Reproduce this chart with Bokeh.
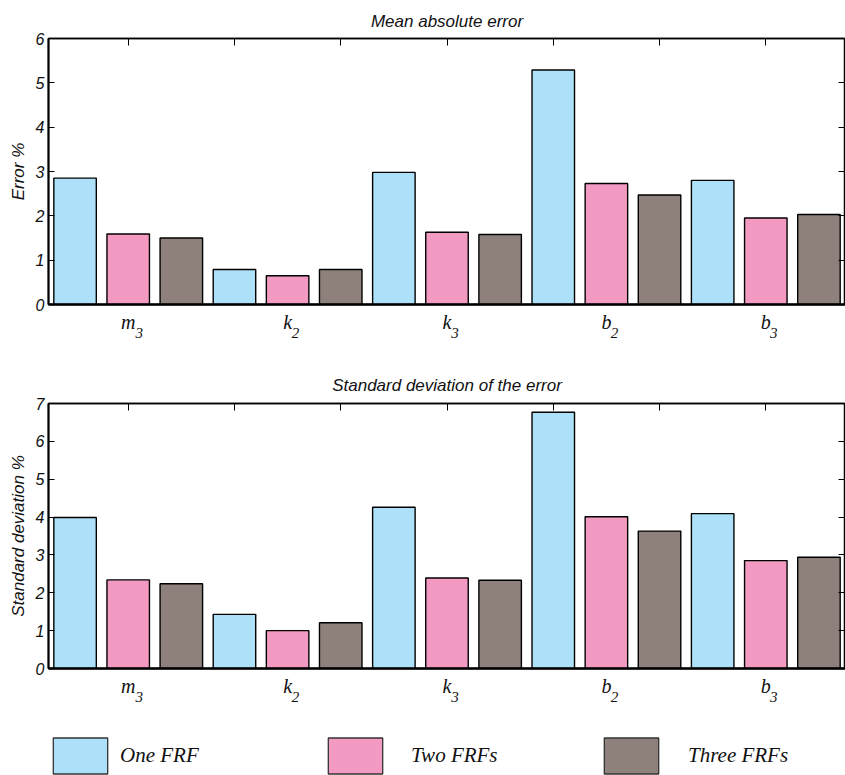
from bokeh.plotting import figure
from bokeh.models import (ColumnDataSource, FixedTicker, LinearAxis, Range1d, Legend,
                          LegendItem, CustomJSTickFormatter)
from bokeh.layouts import column
from bokeh.embed import file_html
from bokeh.resources import INLINE

# ---------------- data ----------------
param_letters = ["m", "k", "k", "b", "b"]
param_subs = ["3", "2", "3", "2", "3"]
series_names = ["One FRF", "Two FRFs", "Three FRFs"]
series_colors = ["#ACE1F9", "#F39AC3", "#8E817C"]

mae_one = [2.85, 0.79, 2.98, 5.29, 2.80]
mae_two = [1.59, 0.65, 1.63, 2.73, 1.95]
mae_three = [1.50, 0.79, 1.58, 2.47, 2.03]

std_one = [3.99, 1.43, 4.26, 6.77, 4.09]
std_two = [2.34, 1.00, 2.39, 4.01, 2.85]
std_three = [2.24, 1.21, 2.33, 3.63, 2.94]

n_groups = len(param_letters)
n_series = len(series_names)
n_bars = n_groups * n_series
group_centers = [n_series * g + 2 for g in range(n_groups)]
top_ticks = list(range(2, n_bars + 1, 2))

SANS = "Liberation Sans"
SERIF = "Liberation Serif"
TXT = "#111111"

FIG_W = 845
BORDER_L = 48
px_per_unit = (FIG_W - BORDER_L) / n_bars
sub_dx_px = {"m": 11, "k": 8, "b": 8}
sub_ticks = [c + sub_dx_px[l] / px_per_unit for c, l in zip(group_centers, param_letters)]


def bar_sources(series_vals):
    out = []
    for s, vals in enumerate(series_vals):
        xs = [n_series * g + s + 1 for g in range(n_groups)]
        out.append(ColumnDataSource(dict(x=xs, top=vals)))
    return out


def make_panel(title, ylabel, series_vals, ymax, height, border_top, border_bottom,
               title_standoff):
    p = figure(width=FIG_W, height=height,
               x_range=Range1d(0.5, n_bars + 0.5),
               y_range=Range1d(0, ymax),
               output_backend="svg", toolbar_location=None,
               min_border_left=BORDER_L, min_border_right=0,
               min_border_top=border_top, min_border_bottom=border_bottom,
               x_axis_location=None, y_axis_location=None)
    p.grid.visible = False
    p.outline_line_color = "black"
    p.outline_line_width = 1.5
    p.background_fill_color = "white"
    p.border_fill_color = "white"

    p.title.text = title
    p.title.align = "center"
    p.title.text_font = SANS
    p.title.text_font_style = "italic"
    p.title.text_font_size = "17px"
    p.title.text_color = TXT
    p.title.standoff = title_standoff

    for s, src in enumerate(bar_sources(series_vals)):
        p.vbar(x="x", top="top", bottom=0, width=0.8, source=src,
               fill_color=series_colors[s], line_color="black", line_width=1.4)

    yticks = list(range(0, ymax + 1))

    la = LinearAxis(ticker=FixedTicker(ticks=yticks), axis_label=ylabel)
    la.major_tick_in = 6
    la.major_tick_out = 0
    la.minor_tick_line_color = None
    la.axis_line_width = 2
    la.major_label_text_font = SANS
    la.major_label_text_font_style = "italic"
    la.major_label_text_font_size = "16px"
    la.major_label_text_color = TXT
    la.major_label_standoff = 4
    la.axis_label_text_font = SANS
    la.axis_label_text_font_style = "italic"
    la.axis_label_text_font_size = "17px"
    la.axis_label_text_color = TXT
    la.axis_label_standoff = 5
    p.add_layout(la, "left")

    ra = LinearAxis(ticker=FixedTicker(ticks=yticks),
                    formatter=CustomJSTickFormatter(code="return ''"))
    ra.major_tick_in = 7
    ra.major_tick_out = 0
    ra.minor_tick_line_color = None
    ra.major_label_standoff = 0
    ra.major_label_text_font_size = "0px"
    ra.axis_line_width = 1.5
    p.add_layout(ra, "right")

    ta = LinearAxis(ticker=FixedTicker(ticks=top_ticks),
                    formatter=CustomJSTickFormatter(code="return ''"))
    ta.major_tick_in = 7
    ta.major_tick_out = 0
    ta.minor_tick_line_color = None
    ta.major_label_standoff = 0
    ta.major_label_text_font_size = "0px"
    ta.axis_line_width = 1.5
    p.add_layout(ta, "above")

    # bottom axis: parameter letters
    ba = LinearAxis(ticker=FixedTicker(ticks=group_centers))
    ba.major_label_overrides = {c: l for c, l in zip(group_centers, param_letters)}
    ba.major_tick_in = 0
    ba.major_tick_out = 0
    ba.minor_tick_line_color = None
    ba.axis_line_width = 2.5
    ba.major_label_text_font = SERIF
    ba.major_label_text_font_style = "italic"
    ba.major_label_text_font_size = "20px"
    ba.major_label_text_color = TXT
    ba.major_label_standoff = 6
    p.add_layout(ba, "below")

    # second bottom axis: subscripts
    sa = LinearAxis(ticker=FixedTicker(ticks=sub_ticks),
                    formatter=CustomJSTickFormatter(args=dict(labels=param_subs),
                                                    code="return labels[index]"))
    sa.axis_line_color = None
    sa.major_tick_line_color = None
    sa.minor_tick_line_color = None
    sa.major_tick_in = 0
    sa.major_tick_out = 0
    sa.major_label_text_font = SERIF
    sa.major_label_text_font_style = "italic"
    sa.major_label_text_font_size = "15px"
    sa.major_label_text_color = TXT
    sa.major_label_standoff = -8
    p.add_layout(sa, "below")
    return p


p1 = make_panel("Mean absolute error", "Error %",
                [mae_one, mae_two, mae_three], 6, 344, 38, 40, 16)
p2 = make_panel("Standard deviation of the error", "Standard deviation %",
                [std_one, std_two, std_three], 7, 364, 59, 40, 18)

# legend strip
p3 = figure(width=FIG_W, height=67, x_range=Range1d(0.5, n_bars + 0.5),
            y_range=Range1d(0, 1),
            output_backend="svg", toolbar_location=None,
            min_border=0, min_border_left=BORDER_L,
            x_axis_location=None, y_axis_location=None)
p3.grid.visible = False
p3.outline_line_color = None
legend_x = [-2, 273, 549]
legend_standoff = [6, 22, 23]
for s, src in enumerate(bar_sources([mae_one, mae_two, mae_three])):
    r = p3.vbar(x="x", top="top", width=0.8, source=src,
                fill_color=series_colors[s], line_color="#333333", line_width=1.3)
    r.visible = False
    lg = Legend(items=[LegendItem(label=series_names[s], renderers=[r])],
                location=(legend_x[s], -3), orientation="horizontal",
                glyph_width=68, glyph_height=45, label_standoff=legend_standoff[s],
                label_text_font=SERIF, label_text_font_style="italic",
                label_text_font_size="21px", label_text_color=TXT,
                padding=0, margin=0, border_line_color=None,
                background_fill_alpha=0, inactive_fill_alpha=0,
                click_policy="none")
    p3.add_layout(lg)

layout = column(p1, p2, p3, spacing=0)
open("out.html", "w").write(file_html(layout, INLINE))
